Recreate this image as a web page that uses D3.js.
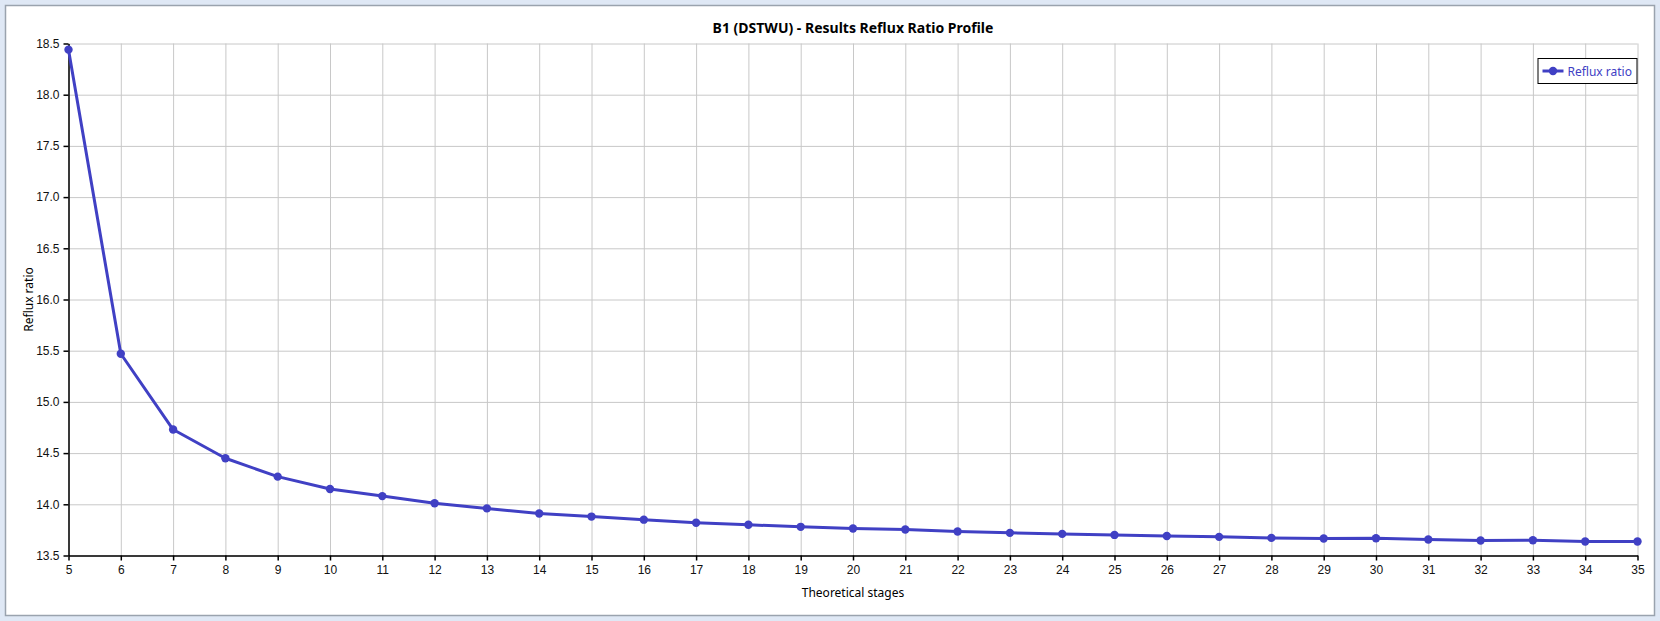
<!DOCTYPE html>
<html>
<head>
<meta charset="utf-8">
<script src="https://cdn.jsdelivr.net/npm/d3@7"></script>
<style>
  html, body { margin: 0; padding: 0; background: #dfe8f5; }
  svg { display: block; font-family: 'Noto Sans', 'Open Sans', sans-serif; }
  .grid line { stroke: #c8c8c8; stroke-width: 1; }
  .grid path { display: none; }
  .axis text { font-size: 12px; fill: #111; }
</style>
</head>
<body>
<div id="chart"></div>
<script>
const stages = [5, 6, 7, 8, 9, 10, 11, 12, 13, 14, 15, 16, 17, 18, 19, 20,
  21, 22, 23, 24, 25, 26, 27, 28, 29, 30, 31, 32, 33, 34, 35]
const refluxRatio = [18.44, 15.47, 14.73, 14.45, 14.27, 14.15, 14.08, 14.01,
  13.96, 13.91, 13.88, 13.85, 13.82, 13.80, 13.78, 13.764, 13.754, 13.734,
  13.721, 13.711, 13.701, 13.691, 13.682, 13.672, 13.666, 13.669, 13.656,
  13.646, 13.649, 13.637, 13.637]
const yTicks = [13.5, 14.0, 14.5, 15.0, 15.5, 16.0, 16.5, 17.0, 17.5, 18.0, 18.5]
const seriesName = 'Reflux ratio'

const width = 1660
const height = 621
const margin = { top: 43.5, right: 22.5, bottom: 65.5, left: 68.5 }
const lineColor = '#4040c4'

const svg = d3.select('#chart').append('svg')
  .attr('width', width)
  .attr('height', height)

// window frame
svg.append('rect')
  .attr('x', 0).attr('y', 0).attr('width', width).attr('height', height)
  .attr('fill', '#dfe8f5')
svg.append('rect')
  .attr('x', 5.5).attr('y', 5.5).attr('width', width - 11).attr('height', height - 11)
  .attr('fill', '#fff').attr('stroke', '#9aa3ae').attr('stroke-width', 1.5)

const x = d3.scaleLinear()
  .domain([stages[0], stages[stages.length - 1]])
  .range([margin.left, width - margin.right])

const y = d3.scaleLinear()
  .domain([yTicks[0], yTicks[yTicks.length - 1]])
  .range([height - margin.bottom, margin.top])

// grid
svg.append('g')
  .attr('class', 'grid')
  .attr('transform', `translate(0, ${margin.top})`)
  .call(d3.axisBottom(x).tickValues(stages).tickSize(height - margin.bottom - margin.top).tickFormat(''))

svg.append('g')
  .attr('class', 'grid')
  .attr('transform', `translate(${width - margin.right}, 0)`)
  .call(d3.axisLeft(y).tickValues(yTicks).tickSize(width - margin.right - margin.left).tickFormat(''))

// axes
const xAxis = svg.append('g')
  .attr('class', 'axis')
  .attr('transform', `translate(0, ${height - margin.bottom})`)
  .call(d3.axisBottom(x).tickValues(stages).tickSize(5).tickSizeOuter(0).tickPadding(5).tickFormat(d3.format('d')))
xAxis.selectAll('line, path').attr('stroke', '#000').attr('stroke-width', 1.5)

const yAxis = svg.append('g')
  .attr('class', 'axis')
  .attr('transform', `translate(${margin.left}, 0)`)
  .call(d3.axisLeft(y).tickValues(yTicks).tickSize(5).tickSizeOuter(0).tickPadding(4).tickFormat(d3.format('.1f')))
yAxis.selectAll('line, path').attr('stroke', '#000').attr('stroke-width', 1.5)

// title and axis labels
svg.append('text')
  .attr('x', (margin.left + width - margin.right) / 2)
  .attr('y', 33)
  .attr('text-anchor', 'middle')
  .attr('font-size', 14)
  .attr('font-weight', 'bold')
  .attr('fill', '#000')
  .text('B1 (DSTWU) - Results Reflux Ratio Profile')

svg.append('text')
  .attr('x', (margin.left + width - margin.right) / 2)
  .attr('y', 597)
  .attr('text-anchor', 'middle')
  .attr('font-size', 12)
  .attr('fill', '#000')
  .text('Theoretical stages')

svg.append('text')
  .attr('transform', `translate(33, ${(margin.top + height - margin.bottom) / 2}) rotate(-90)`)
  .attr('text-anchor', 'middle')
  .attr('font-size', 12)
  .attr('fill', '#000')
  .text('Reflux ratio')

// series
const data = stages.map((s, i) => ({ stage: s, value: refluxRatio[i] }))

const line = d3.line()
  .x(d => x(d.stage))
  .y(d => y(d.value))

svg.append('path')
  .datum(data)
  .attr('fill', 'none')
  .attr('stroke', lineColor)
  .attr('stroke-width', 3)
  .attr('stroke-linejoin', 'round')
  .attr('d', line)

svg.append('g')
  .selectAll('circle')
  .data(data)
  .join('circle')
  .attr('cx', d => x(d.stage))
  .attr('cy', d => y(d.value))
  .attr('r', 4.2)
  .attr('fill', lineColor)

// legend
const legend = svg.append('g')
  .attr('transform', `translate(${width - margin.right - 100}, 58)`)
legend.append('rect')
  .attr('x', 0.5).attr('y', 0.5).attr('width', 99).attr('height', 25)
  .attr('fill', '#fff').attr('stroke', '#000').attr('stroke-width', 1)
legend.append('line')
  .attr('x1', 5).attr('x2', 26).attr('y1', 13).attr('y2', 13)
  .attr('stroke', lineColor).attr('stroke-width', 3)
legend.append('circle')
  .attr('cx', 15.5).attr('cy', 13).attr('r', 4.2)
  .attr('fill', lineColor)
legend.append('text')
  .attr('x', 30).attr('y', 17.5)
  .attr('font-size', 12)
  .attr('fill', lineColor)
  .text(seriesName)
</script>
</body>
</html>
